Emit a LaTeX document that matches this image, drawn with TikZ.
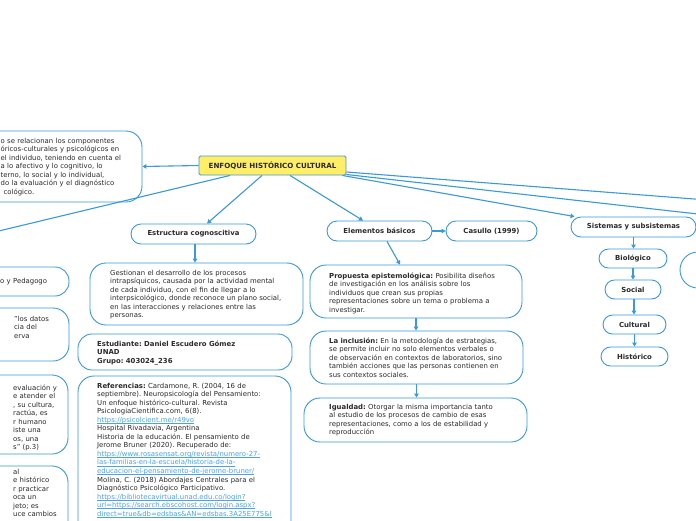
\documentclass[tikz,border=0pt]{standalone}
\usepackage{fontspec}
\setmainfont{DejaVu Sans}
\usetikzlibrary{arrows.meta,calc}
\definecolor{ln}{HTML}{3A9AD9}
\definecolor{tx}{HTML}{2A2A2A}
\definecolor{lk}{HTML}{4AA3E6}
\definecolor{yel}{HTML}{FFEE66}
\newcommand\lnk[1]{\textcolor{lk}{\setbox0\hbox{#1}\rlap{\rule[-1pt]{\wd0}{0.45pt}}\box0}}
\frenchspacing
\begin{document}
\begin{tikzpicture}[x=1pt,y=-1pt,
 bx/.style={draw=ln, line width=0.9pt, fill=white, rounded corners=#1, inner sep=0pt},
 bx/.default=10pt,
 lbl/.style={font=\fontsize{6.9}{8.55}\selectfont\bfseries, text=tx},
 txt/.style={font=\fontsize{6.9}{8.55}\selectfont, text=tx, align=left, anchor=base west, inner sep=0pt, text width=260pt},
 con/.style={draw=ln, line width=1.1pt},
 arr/.style={con, -{Triangle[length=4pt,width=4.5pt]}},
]
\useasboundingbox[fill=white] (0,0) rectangle (696,520);

% boxes
\node[bx=1.5pt, fill=yel, minimum width=147pt, minimum height=19pt, lbl, font=\fontsize{7.1}{8.55}\selectfont\bfseries] (central) at (272.5,165.5) {ENFOQUE HISTÓRICO CULTURAL};
\node[bx=16pt, minimum width=202pt, minimum height=71pt] (lt) at (41,166.5) {};
\node[bx, minimum width=125pt, minimum height=20pt, lbl] (estr) at (193.5,234) {Estructura cognoscitiva};
\node[bx, minimum width=105pt, minimum height=20pt, lbl] (elem) at (379.5,231) {Elementos básicos};
\node[bx, minimum width=91pt, minimum height=20pt, lbl] (casullo) at (491.5,231) {Casullo (1999)};
\node[bx, minimum width=125pt, minimum height=20pt, lbl] (sist) at (633.5,227) {Sistemas y subsistemas};
\node[bx=9.5pt, minimum width=68pt, minimum height=19pt, lbl] (bio) at (633,258.5) {Biológico};
\node[bx=9.5pt, minimum width=56pt, minimum height=19pt, lbl] (soc) at (633,289.5) {Social};
\node[bx=9.5pt, minimum width=63pt, minimum height=19pt, lbl] (cult) at (634.5,324.5) {Cultural};
\node[bx=9.5pt, minimum width=67pt, minimum height=19pt, lbl] (hist) at (634.5,356.5) {Histórico};
\node[bx=16pt, minimum width=213pt, minimum height=62pt] (gest) at (196.5,294) {};
\node[bx=14pt, minimum width=214pt, minimum height=36pt] (estud) at (185,352) {};
\node[bx=16pt, minimum width=213pt, minimum height=164pt] (refs) at (184.5,458) {};
\node[bx=16pt, minimum width=212pt, minimum height=53pt] (prop) at (416,291.5) {};
\node[bx=16pt, minimum width=213pt, minimum height=53pt] (incl) at (416.5,357.5) {};
\node[bx=16pt, minimum width=223pt, minimum height=44pt] (igual) at (415.5,420) {};
\node[bx=14pt, minimum width=149pt, minimum height=29pt] (bxa) at (-5.5,281.5) {};
\node[bx=16pt, minimum width=149pt, minimum height=53pt] (bxb) at (-5.5,334.5) {};
\node[bx=16pt, minimum width=148pt, minimum height=79pt] (bxc) at (-6,414.5) {};
\node[bx=16pt, minimum width=148pt, minimum height=94pt] (bxd) at (-6,513) {};
\node[bx=18pt, minimum width=120pt, minimum height=36pt] (rc) at (740,270) {};

% texts
\node[txt] (ltt) at (0.5,143) {o se relacionan los componentes\\
óricos-culturales y psicológicos en\\
el individuo, teniendo en cuenta el\\
a lo afectivo y lo cognitivo, lo\\
terno, lo social y lo individual,\\
do la evaluación y el diagnóstico\\
\hspace*{3pt}cológico.};
\node[txt] (bxat) at (0,283) {o y Pedagogo};
\node[txt] (bxbt) at (14,321) {"los datos\\cia del\\erva};
\node[txt] (bxct) at (13,390) {evaluación y\\e atender el\\, su cultura,\\ractúa, es\\r humano\\iste una\\os, una\\s" (p.3)};
\node[txt] (bxdt) at (13,474) {al\\e histórico\\r practicar\\oca un\\jeto; es\\uce cambios};
\node[txt] (gestt) at (110,275) {Gestionan el desarrollo de los procesos\\
intrapsíquicos, causada por la actividad mental\\
de cada individuo, con el fin de llegar a lo\\
interpsicológico, donde reconoce un plano social,\\
en las interacciones y relaciones entre las\\
personas.};
\node[txt, font=\fontsize{6.9}{8.55}\selectfont\bfseries] (estudt) at (97,346) {Estudiante: Daniel Escudero Gómez\\UNAD\\Grupo: 403024\_236};
\node[txt] (refst) at (97,388) {\textbf{Referencias:} Cardamone, R. (2004, 16 de\\
septiembre). Neuropsicología del Pensamiento:\\
Un enfoque histórico-cultural. Revista\\
PsicologiaCientifica.com, 6(8).\\
\lnk{https://psicolcient.me/r49vo}\\
Hospital Rivadavia, Argentina\\
Historia de la educación. El pensamiento de\\
Jerome Bruner (2020). Recuperado de:\\
\lnk{https://www.rosasensat.org/revista/numero-27-}\\
\lnk{las-familias-en-la-escuela/historia-de-la-}\\
\lnk{educacion-el-pensamiento-de-jerome-bruner/}\\
Molina, C. (2018) Abordajes Centrales para el\\
Diagnóstico Psicológico Participativo.\\
\lnk{https://bibliotecavirtual.unad.edu.co/login?}\\
\lnk{url=https://search.ebscohost.com/login.aspx?}\\
\lnk{direct=true\&db=edsbas\&AN=edsbas.3A25E775\&l}};
\node[txt] (propt) at (329,278) {\textbf{Propuesta epistemológica:} Posibilita diseños\\
de investigación en los análisis sobre los\\
individuos que crean sus propias\\
representaciones sobre un tema o problema a\\
investigar.};
\node[txt] (inclt) at (329,343) {\textbf{La inclusión:} En la metodología de estrategias,\\
se permite incluir no solo elementos verbales o\\
de observación en contextos de laboratorios, sino\\
también acciones que las personas contienen en\\
sus contextos sociales.};
\node[txt] (igualt) at (329,409) {\textbf{Igualdad:} Otorgar la misma importancia tanto\\
al estudio de los procesos de cambio de esas\\
representaciones, como a los de estabilidad y\\
reproducción};

% connectors
\coordinate (offL) at (-20,235.5);
\coordinate (offR1) at (720,201);
\coordinate (offR2) at (720,216.5);
\draw[arr] (central.west) -- (lt.east);
\draw[con] ([xshift=-42.5pt]central.south) -- (offL);
\draw[arr] ([xshift=-10.5pt]central.south) -- ([xshift=13.5pt]estr.north);
\draw[arr] ([xshift=17.5pt]central.south) -- ([xshift=-16.5pt]elem.north);
\draw[arr] ([xshift=-4pt]central.south east) -- ([xshift=4pt]sist.north west);
\draw[con] ([yshift=-6.5pt]central.east) -- (offR1);
\draw[con] ([yshift=-9pt]central.east) -- (offR2);
\draw[arr] ([xshift=1.5pt]estr.south) -- ([xshift=1.5pt]estr.south |- gest.north);
\draw[arr] (elem.east) -- (casullo.west);
\draw[arr] ([xshift=7.5pt]elem.south) -- ([xshift=-16pt]prop.north);
\draw[arr] (prop.south) -- (prop.south |- incl.north);
\draw[arr] (incl.south) -- (incl.south |- igual.north);
\draw[arr] (sist.south) -- (sist.south |- bio.north);
\draw[arr] (bio.south) -- (bio.south |- soc.north);
\draw[arr] ([xshift=1pt]soc.south) -- ([xshift=1pt]soc.south |- cult.north);
\draw[arr] (cult.south) -- (cult.south |- hist.north);
\end{tikzpicture}
\end{document}
